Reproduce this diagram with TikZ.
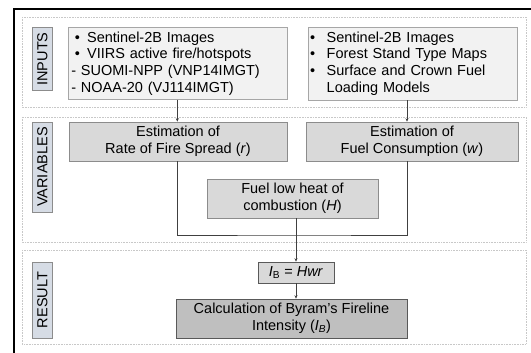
\documentclass[tikz,border=0pt]{standalone}
\usepackage{fontspec}
\setmainfont{Liberation Sans}
\usetikzlibrary{arrows.meta}
\definecolor{lblfill}{HTML}{D6DCE5}
\definecolor{lbldraw}{HTML}{8C8C8C}
\definecolor{infill}{HTML}{F2F2F2}
\definecolor{indraw}{HTML}{A6A6A6}
\definecolor{varfill}{HTML}{D9D9D9}
\definecolor{vardraw}{HTML}{8C8C8C}
\definecolor{resfill}{HTML}{BFBFBF}
\definecolor{resdraw}{HTML}{595959}
\definecolor{secdraw}{HTML}{C8C8C8}
\definecolor{conn}{HTML}{404040}
\tikzset{
  every node/.style={font=\fontsize{14.5}{16.7}\selectfont, inner sep=0pt},
  section/.style={draw=secdraw, densely dotted, line width=0.6pt},
  lbl/.style={draw=lbldraw, fill=lblfill, line width=0.6pt, rotate=90, minimum height=20pt},
  inbox/.style={draw=indraw, fill=infill, line width=0.6pt, align=left},
  varbox/.style={draw=vardraw, fill=varfill, line width=0.6pt, align=center},
  resbox/.style={draw=resdraw, fill=resfill, line width=0.6pt, align=center},
  ibbox/.style={draw=resdraw, fill=varfill, line width=0.6pt, align=center},
  arr/.style={draw=conn, line width=0.6pt, -{Stealth[length=3.5pt,width=3pt]}},
  ln/.style={draw=conn, line width=0.6pt},
}
\begin{document}
\begin{tikzpicture}[x=1pt,y=-1pt]
\path[use as bounding box] (0,0) rectangle (531,353);
\clip (0,0) rectangle (531,353);
\fill[white] (0,0) rectangle (531,353);
\draw[line width=2pt] (13.8,370) -- (13.8,9) -- (545,9);
% sections
\draw[section] (22,17) rectangle (526,107);
\draw[section] (22,117) rectangle (526,242);
\draw[section] (22,250) rectangle (526,344);
% labels
\node[lbl, minimum width=63.5pt] (lin) at (42.3,59) {INPUTS};
\node[lbl, minimum width=90pt] (lvar) at (42.3,167) {VARIABLES};
\node[lbl, minimum width=76pt] (lres) at (42.3,300) {RESULT};
% inputs
\node[inbox, minimum width=218.5pt, minimum height=72pt, text width=216pt] (inL) at (177.8,63.4)
 {\hspace*{5pt}\makebox[12.3pt][l]{•}Sentinel-2B Images\\
  \hspace*{5pt}\makebox[12.3pt][l]{•}VIIRS active fire/hotspots\\
  \hspace*{1.5pt}- SUOMI-NPP (VNP14IMGT)\\
  \hspace*{1.5pt}- NOAA-20 (VJ114IMGT)};
\node[inbox, minimum width=209pt, minimum height=73pt, text width=205pt] (inR) at (412.5,63.5)
 {\makebox[16.7pt][l]{•}Sentinel-2B Images\\
  \makebox[16.7pt][l]{•}Forest Stand Type Maps\\
  \makebox[16.7pt][l]{•}Surface and Crown Fuel\\
  \hspace*{16.7pt}Loading Models};
% variables
\node[varbox, minimum width=218pt, minimum height=39pt] (rate) at (178,141.5)
 {Estimation of\\Rate of Fire Spread (\textit{r})};
\node[varbox, minimum width=212pt, minimum height=39pt] (cons) at (412,141.5)
 {Estimation of\\Fuel Consumption (\textit{w})};
\node[varbox, minimum width=171pt, minimum height=39pt] (heat) at (292.5,198.5)
 {Fuel low heat of\\combustion (\textit{H})};
% result
\node[ibbox, minimum width=76pt, minimum height=21pt] (ib) at (296,272.5)
 {\textit{I}\textsubscript{B} = \textit{Hwr}};
\node[resbox, minimum width=231pt, minimum height=39pt] (res) at (291.5,318.5)
 {Calculation of Byram’s Fireline\\Intensity (\textit{I}\textsubscript{\textit{B}})};
% connectors
\draw[arr] ([xshift=-0.5pt]inL.south) -- ([xshift=-0.5pt]inL.south |- rate.north);
\draw[arr] ([xshift=-5.5pt]inR.south) -- ([xshift=-5.5pt]inR.south |- cons.north);
\coordinate (jn) at (296,235);
\draw[ln] ([xshift=-1pt]rate.south) |- (jn) -| ([xshift=-5pt]cons.south);
\draw[arr] ([xshift=3.5pt]heat.south) -- (ib.north);
\draw[arr] (ib.south) -- (ib.south |- res.north);
\end{tikzpicture}
\end{document}
